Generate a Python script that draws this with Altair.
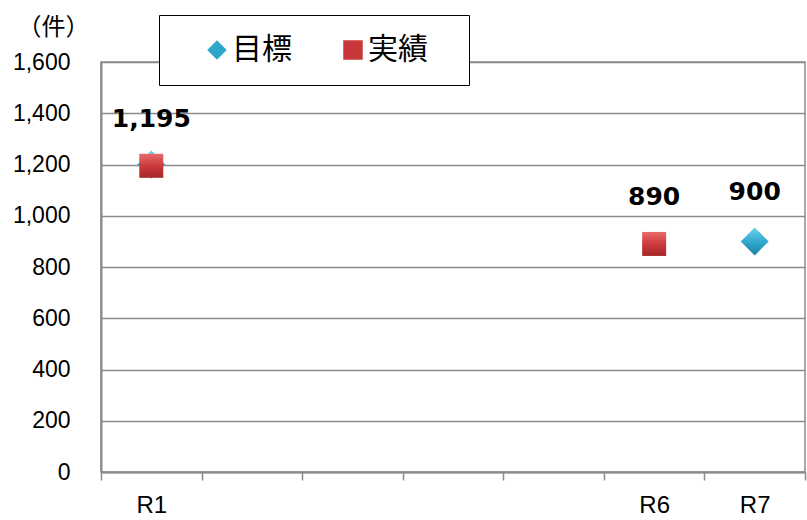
import altair as alt
import pandas as pd

# Fiscal periods on the x axis (only some carry a visible label)
periods = ["R1", "R2", "R3", "R4", "R5", "R6", "R7"]
shown_periods = ["R1", "R6", "R7"]

# Target (目標) and actual (実績) counts per period
target = [1200, None, None, None, None, None, 900]
actual = [1195, None, None, None, None, 890, None]

# Periods whose value is written above the marker
target_labelled = ["R7"]
actual_labelled = ["R1", "R6"]

series_names = ["目標", "実績"]
series_colors = ["#2ea7cb", "#c8383b"]
series_shapes = ["diamond", "square"]

rows = []
for i, p in enumerate(periods):
    if target[i] is not None:
        rows.append({"period": p, "series": "目標", "value": target[i],
                     "labelled": p in target_labelled})
    if actual[i] is not None:
        rows.append({"period": p, "series": "実績", "value": actual[i],
                     "labelled": p in actual_labelled})
df = pd.DataFrame(rows)

GRID = "#8a8a8a"
shown_expr = "indexof(" + str(shown_periods) + ", datum.value) >= 0 ? datum.label : ''"

x_enc = alt.X(
    "period:N",
    scale=alt.Scale(type="band", domain=periods, paddingInner=0, paddingOuter=0),
    axis=alt.Axis(
        title=None, labelAngle=0, labelExpr=shown_expr, tickBand="extent",
        labelFont="Liberation Sans", labelFontSize=24, labelColor="black",
        labelPadding=13, tickSize=8, tickColor=GRID, tickWidth=1.5,
        domainColor=GRID, domainWidth=2, grid=False,
    ),
)
y_enc = alt.Y(
    "value:Q",
    scale=alt.Scale(domain=[0, 1600], nice=False),
    axis=alt.Axis(
        values=[0, 200, 400, 600, 800, 1000, 1200, 1400, 1600], format=",d",
        labelFont="Liberation Sans", labelFontSize=23, labelColor="black",
        labelPadding=31, ticks=False, tickSize=0,
        domainColor=GRID, domainWidth=2,
        grid=True, gridColor=GRID, gridWidth=1.3,
        title="（件）", titleAngle=0, titleX=-48, titleY=-35,
        titleAlign="center", titleBaseline="middle",
        titleFont="Noto Sans CJK JP", titleFontSize=24,
        titleFontWeight="normal", titleColor="black",
    ),
)

base = alt.Chart(df).encode(x=x_enc, y=y_enc)

# Flat-coloured markers that also feed the legend; the blank legend title on
# the right only widens the framed legend box
legend_opts = dict(title="\u3000", titleOrient="right", titleFontSize=1,
                   titlePadding=21)
legend_layer = base.mark_point(filled=True, opacity=1, size=380, strokeWidth=0).encode(
    color=alt.Color("series:N", scale=alt.Scale(domain=series_names, range=series_colors),
                    legend=alt.Legend(**legend_opts)),
    shape=alt.Shape("series:N", scale=alt.Scale(domain=series_names, range=series_shapes),
                    legend=alt.Legend(**legend_opts)),
)

diamond_fill = alt.LinearGradient(
    gradient="linear", x1=0, x2=0, y1=0, y2=1,
    stops=[alt.GradientStop(offset=0, color="#6fd3ee"),
           alt.GradientStop(offset=0.5, color="#33aacf"),
           alt.GradientStop(offset=1, color="#1a7fa3")],
)
square_fill = alt.LinearGradient(
    gradient="linear", x1=0, x2=0, y1=0, y2=1,
    stops=[alt.GradientStop(offset=0, color="#e86a6a"),
           alt.GradientStop(offset=0.5, color="#cc3b3d"),
           alt.GradientStop(offset=1, color="#a52628")],
)

target_pts = base.transform_filter(alt.datum.series == "目標").mark_point(
    shape="diamond", filled=True, size=784, opacity=1, color=diamond_fill, strokeWidth=0)
actual_pts = base.transform_filter(alt.datum.series == "実績").mark_point(
    shape="square", filled=True, size=576, opacity=1, color=square_fill, strokeWidth=0)

label_style = dict(font="DejaVu Sans", fontWeight="bold", fontSize=25,
                   color="black", baseline="middle", align="center")
target_text = base.transform_filter(
    (alt.datum.series == "目標") & alt.datum.labelled
).mark_text(dy=-49, **label_style).encode(text=alt.Text("value:Q", format=",d"))
actual_text = base.transform_filter(
    (alt.datum.series == "実績") & alt.datum.labelled
).mark_text(dy=-47, **label_style).encode(text=alt.Text("value:Q", format=",d"))

chart = (
    alt.layer(legend_layer, target_pts, actual_pts, target_text, actual_text)
    .properties(
        width=704, height=410,
        autosize=alt.AutoSizeParams(type="none"),
        padding={"left": 101, "top": 62, "right": 2, "bottom": 48},
    )
    .configure_view(stroke=GRID, strokeWidth=1.5)
    .configure_legend(
        orient="none", legendX=58, legendY=-47, direction="horizontal",
        padding=20, symbolOffset=23, symbolSize=380, symbolStrokeWidth=0,
        labelFont="Noto Sans CJK JP", labelFontSize=30, labelColor="black",
        labelOffset=0, columnPadding=23,
        strokeColor="black", fillColor="white",
    )
)

chart.save("out.html", embed_options={"renderer": "svg", "actions": False})
